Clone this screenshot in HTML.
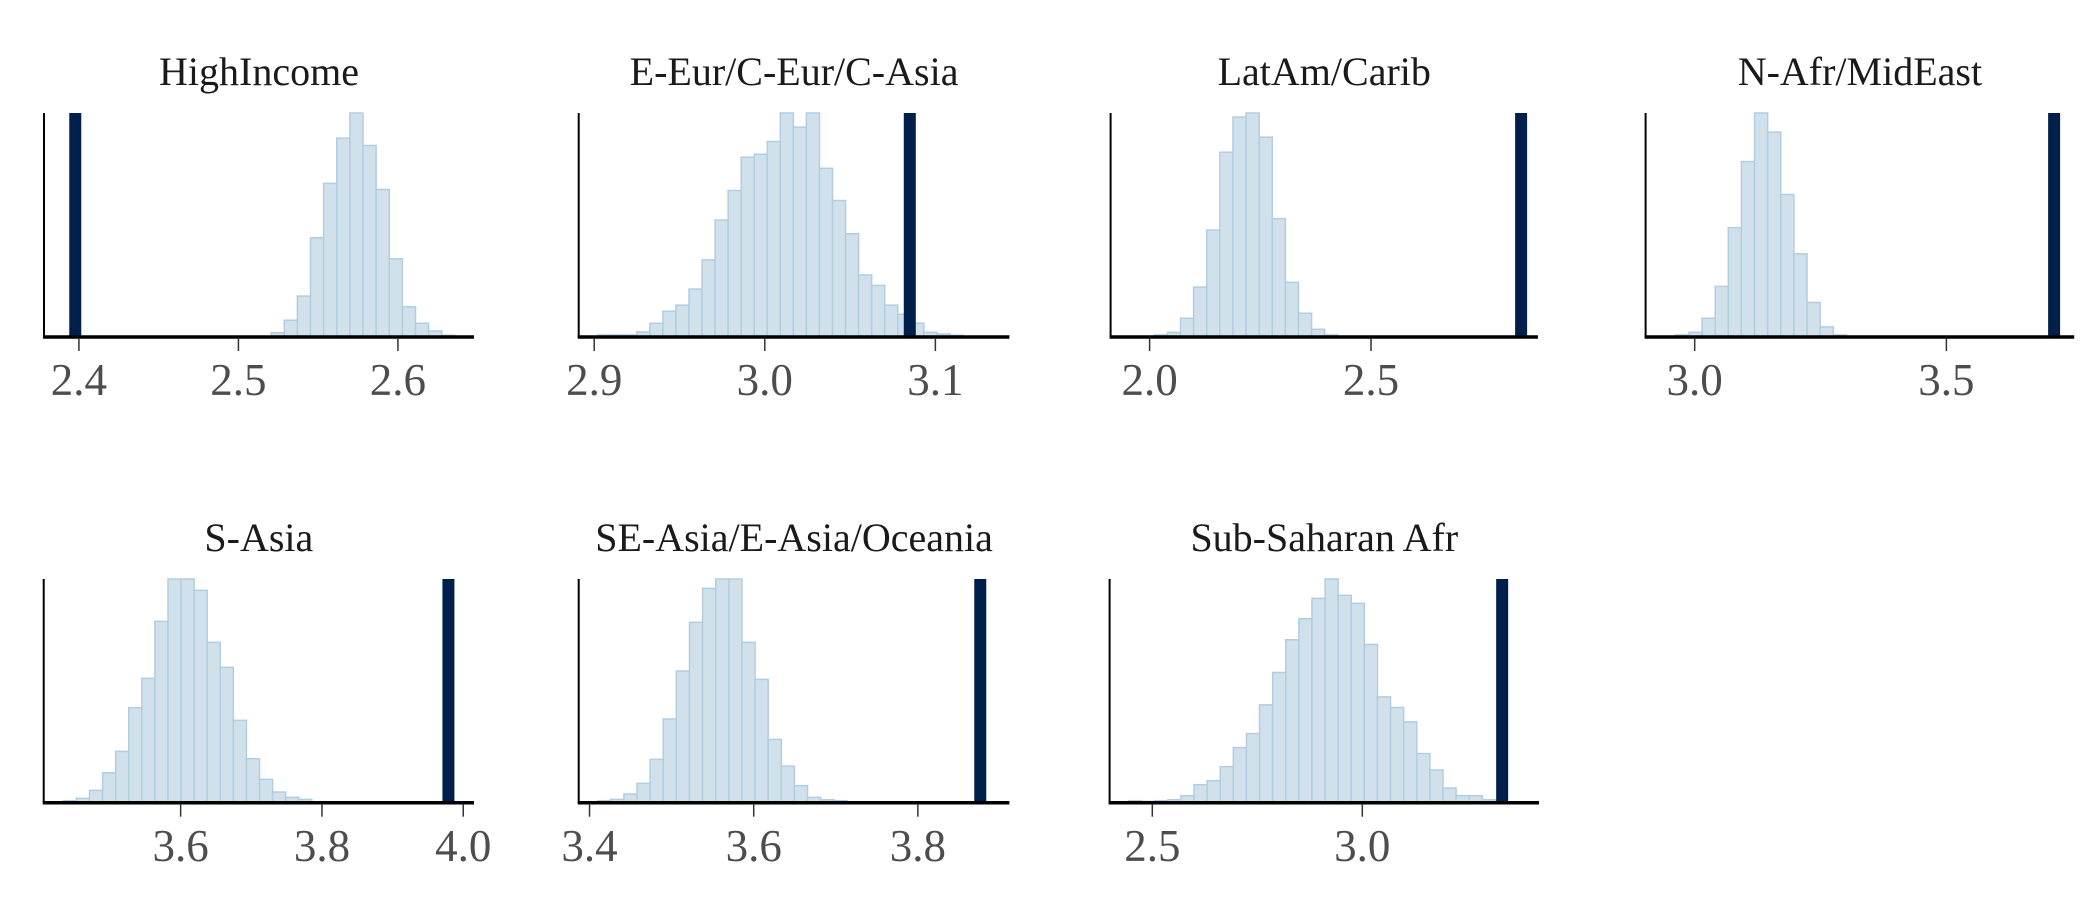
<!DOCTYPE html>
<html><head><meta charset="utf-8"><style>
html,body{margin:0;padding:0;background:#fff;}
svg{display:block;font-family:"Liberation Serif",serif;}
</style></head><body>
<svg id="chart" width="2100" height="900" viewBox="0 0 2100 900" xmlns="http://www.w3.org/2000/svg"></svg>
<script>
const titles = ["HighIncome","E-Eur/C-Eur/C-Asia","LatAm/Carib","N-Afr/MidEast","S-Asia","SE-Asia/E-Asia/Oceania","Sub-Saharan Afr"];
const binStarts = [2.5205, 2.902, 2.0106, 2.9625, 3.434, 3.4099, 2.4433];
const binWidths = [0.00823, 0.00765, 0.0296, 0.02607, 0.01851, 0.01598, 0.0312];
const countsHigh = [10,47,119,293,455,590,665,568,437,230,87,38,15,2];
const countsEEur = [3,3,3,12,38,74,92,140,227,346,434,533,542,580,665,623,665,500,404,305,182,151,92,65,38,11,6,2];
const countsLatAm = [3,11,53,146,316,548,653,665,593,350,160,68,20,3];
const countsNAfr = [3,11,53,148,323,520,665,608,422,245,100,27,3];
const countsSAsia = [3,10,34,87,151,282,370,541,668,668,634,478,403,244,129,67,29,13,7];
const countsSEAsia = [3,7,23,55,127,248,392,538,640,668,668,478,367,187,107,48,13,6,3];
const countsSSA = [3,1,3,6,18,51,63,105,162,204,290,387,485,548,609,667,618,594,471,314,282,239,144,95,41,18,18,6];
const observed = [2.3977, 3.085, 2.839, 3.714, 3.979, 3.876, 3.333];
const ticksHigh = [2.4,2.5,2.6];
const ticksEEur = [2.9,3.0,3.1];
const ticksLatAm = [2.0,2.5];
const ticksNAfr = [3.0,3.5];
const ticksSAsia = [3.6,3.8,4.0];
const ticksSEAsia = [3.4,3.6,3.8];
const ticksSSA = [2.5,3.0];
const domainMins = [2.3781, 2.8909, 1.9119, 2.9025, 3.4062, 3.3868, 2.3983];
const domainMaxs = [2.6477, 3.1434, 2.8769, 3.7539, 4.0152, 3.9115, 3.4207];

const allCounts=[countsHigh,countsEEur,countsLatAm,countsNAfr,countsSAsia,countsSEAsia,countsSSA];
const allTicks=[ticksHigh,ticksEEur,ticksLatAm,ticksNAfr,ticksSAsia,ticksSEAsia,ticksSSA];
const lefts=[44,578.7,1110.6,1645.6,43.7,578.7,1109.6];
const rights=[474,1009.4,1537.9,2074.2,474,1009.4,1539];
const rows=[{top:113,base:336,lab:395,title:85},{top:579,base:801.7,lab:861,title:551}];
const NS="http://www.w3.org/2000/svg";
const svg=document.getElementById('chart');
function mk(tag,attrs,parent){const e=document.createElementNS(NS,tag);for(const k in attrs)e.setAttribute(k,attrs[k]);parent.appendChild(e);return e;}
function slug(s){return s.toLowerCase().replace(/[^a-z0-9]+/g,'-').replace(/^-|-$/g,'');}
for(let p=0;p<7;p++){
  const r=rows[p<4?0:1], L=lefts[p], R=rights[p];
  const xs=v=>L+(v-domainMins[p])/(domainMaxs[p]-domainMins[p])*(R-L);
  const counts=allCounts[p], mx=Math.max(...counts);
  const ys=c=>r.base-c/mx*(r.base-r.top);
  const g=mk('g',{},svg);
  
  
  const t=mk('text',{x:(L+R)/2,y:r.title,'text-anchor':'middle','font-size':40,fill:'#1a1a1a'},g);
  t.textContent=titles[p];
  
  
  counts.forEach((c,i)=>{
    const x0=xs(binStarts[p]+i*binWidths[p]), x1=xs(binStarts[p]+(i+1)*binWidths[p]);
    const b=mk('rect',{x:x0,y:ys(c),width:x1-x0,height:r.base-ys(c),fill:'#d1e1ec',stroke:'#b3cde0','stroke-width':1.5},g);
    
    
  });
  const ox=xs(observed[p]);
  const ln=mk('rect',{x:ox-6,y:r.top,width:12,height:r.base-r.top,fill:'#011f4b'},g);
  
  
  const ya=mk('line',{x1:L,x2:L,y1:r.top,y2:r.base+1,stroke:'#000','stroke-width':2},g);
  
  
  const xa=mk('line',{x1:L-1,x2:R,y1:r.base+1,y2:r.base+1,stroke:'#000','stroke-width':3.5},g);
  
  
  allTicks[p].forEach(v=>{
    const tx=xs(v);
    const tk=mk('line',{x1:tx,x2:tx,y1:r.base+2,y2:r.base+15,stroke:'#333','stroke-width':1.5},g);
    
    
    const tl=mk('text',{x:tx,y:r.lab,'text-anchor':'middle','font-size':45,fill:'#4d4d4d'},g);
    tl.textContent=v.toFixed(1);
    
    
  });
}
</script>
</body></html>
